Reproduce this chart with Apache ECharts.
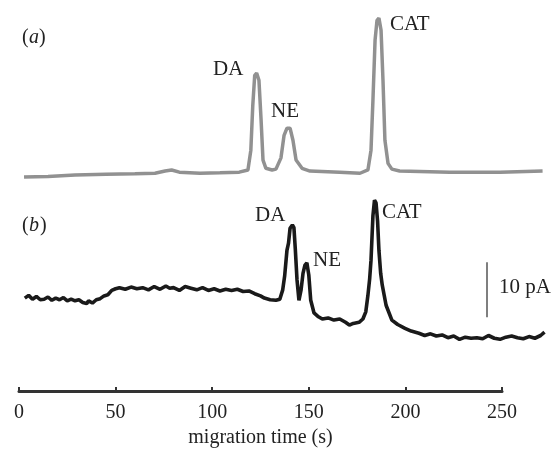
<!DOCTYPE html>
<html>
<head>
<meta charset="utf-8">
<script src="https://cdn.jsdelivr.net/npm/echarts@6/dist/echarts.min.js"></script>
<style>
  html, body { margin: 0; padding: 0; background: #fff; }
  #chart { width: 557px; height: 452px; }
</style>
</head>
<body>
<div id="chart"></div>
<script>
// migration time (s), signal above the trace's own baseline (pA)
var traceA = [
  [2.6, 0], [15, 0.1], [29, 0.4], [45, 0.5], [60, 0.6], [70.4, 0.7], [75.6, 1.1], [79, 1.3],
  [83, 0.9], [93.7, 0.7], [104, 0.8], [114, 0.9], [118.5, 1.3], [120, 4.9], [121, 13],
  [122, 18.5], [123, 18.9], [124.2, 17.6], [125.3, 10.4], [126.3, 3.1], [127.8, 1.6],
  [131, 1.3], [133, 1.45], [135.6, 3.5], [137.2, 7.6], [138.7, 8.9], [140.3, 8.9],
  [141.8, 6.7], [143.4, 3.1], [146.5, 1.6], [150.6, 1.1], [166, 0.9], [176.5, 0.7],
  [180.6, 1.3], [182.2, 4.9], [183.2, 14], [184.3, 24.9], [185.3, 28.5], [186.3, 28.9],
  [187.4, 26.7], [188.4, 17.6], [189.4, 6.7], [191, 2.5], [193, 1.45], [197, 1.1],
  [223, 0.9], [249, 0.9], [271, 1.1]
];
var traceB = [
  [3, 0], [5, 0.5], [7, -0.2], [9, 0.3], [11, -0.3], [13, -0.2], [15, 0.2], [17, -0.4],
  [19, 0], [21, -0.3], [23, 0.1], [25, -0.5], [27, -0.2], [29, -0.5], [31, -0.3], [33, -0.8],
  [35, -1.0], [36, -0.5], [38, -0.9], [40, -0.3], [42, -0.1], [44, 0.4], [46, 0.6], [48, 1.4],
  [50, 1.7], [52, 1.9], [55, 1.6], [58, 2.0], [61, 1.7], [64, 1.9], [67, 1.5], [70, 2.1],
  [73, 1.6], [76, 2.2], [78, 1.8], [80, 1.9], [83, 1.4], [86, 2.1], [89, 1.8], [92, 1.5],
  [95, 1.9], [98, 1.4], [101, 1.7], [104, 1.3], [107, 1.6], [110, 1.4], [113, 1.6], [116, 1.2],
  [119, 1.3], [122, 0.8], [125, 0.4], [127, 0], [130, -0.3], [133, -0.4], [135, -0.2],
  [136.5, 1.5], [137.5, 4], [138.7, 8.7], [139.5, 10], [140.3, 12.7], [141.5, 13.3],
  [142.3, 12.8], [143, 9], [143.9, 3.3], [144.9, -0.4], [146, 1.5], [147, 4.5], [148, 6],
  [149, 6.4], [150, 4.2], [151, -0.4], [152.7, -2.7], [155, -3.4], [157, -3.8], [160, -3.6],
  [163, -4.0], [166, -3.8], [169, -4.4], [171, -4.9], [173, -4.6], [176, -4.4], [178, -3.8],
  [179.5, -2.5], [180.6, 0.5], [181.5, 3.5], [182.2, 6.9], [183.2, 15], [184, 17.8],
  [184.8, 17.3], [185.6, 14], [186.3, 8.7], [187.2, 4.5], [188, 2.4], [190, -1.3], [193, -4],
  [196, -4.8], [199.8, -5.5], [203, -6], [207, -6.4], [210, -6.8], [213, -6.5], [216, -6.9],
  [219, -6.7], [222, -7.2], [225, -6.9], [228, -7.5], [231, -7.1], [234, -7.3], [237, -7.2],
  [240, -7.4], [243, -6.8], [246, -7.3], [249, -7.5], [252, -7.1], [255, -6.9], [258, -7.2],
  [261, -7.4], [264, -7.0], [267, -7.3], [270, -6.8], [272, -6.2]
];
var xTicks = [0, 50, 100, 150, 200, 250];
var scaleBar = 10; // pA

// vertical stacking of the two traces
var offsetA = 31.8;
var offsetB = 9.8;

function shift(data, off) {
  return data.map(function (p) { return [p[0], p[1] + off]; });
}

var serif = '"Liberation Serif", "DejaVu Serif", serif';
var chart = echarts.init(document.getElementById('chart'));

chart.setOption({
  backgroundColor: '#fff',
  animation: false,
  grid: [
    { left: 19, right: 6.7, top: 0, height: 352 },
    { left: 19, right: 55, top: 380, bottom: 61 }
  ],
  xAxis: [
    { gridIndex: 0, type: 'value', min: 0, max: 275, show: false },
    {
      gridIndex: 1, type: 'value', min: xTicks[0], max: xTicks[xTicks.length - 1], interval: 50,
      name: 'migration time (s)', nameLocation: 'middle', nameGap: 37,
      nameTextStyle: { fontFamily: serif, fontSize: 20, color: '#222' },
      axisLine: { lineStyle: { color: '#333', width: 3 } },
      axisTick: { inside: true, length: 4, lineStyle: { color: '#333', width: 2 } },
      axisLabel: { fontFamily: serif, fontSize: 20, color: '#222', margin: 12 },
      splitLine: { show: false }
    }
  ],
  yAxis: [
    { gridIndex: 0, type: 'value', min: 0, max: 64, show: false },
    { gridIndex: 1, type: 'value', show: false }
  ],
  graphic: [
    { type: 'text', left: 22, top: 28, style: { text: '(', font: '20px ' + serif, fill: '#222' } },
    { type: 'text', left: 29, top: 28, style: { text: 'a', font: 'italic 20px ' + serif, fill: '#222' } },
    { type: 'text', left: 39, top: 28, style: { text: ')', font: '20px ' + serif, fill: '#222' } },
    { type: 'text', left: 22, top: 216, style: { text: '(', font: '20px ' + serif, fill: '#222' } },
    { type: 'text', left: 29, top: 216, style: { text: 'b', font: 'italic 20px ' + serif, fill: '#222' } },
    { type: 'text', left: 40, top: 216, style: { text: ')', font: '20px ' + serif, fill: '#222' } },
    { type: 'text', left: 213, top: 59, style: { text: 'DA', font: '21px ' + serif, fill: '#222' } },
    { type: 'text', left: 271, top: 101, style: { text: 'NE', font: '21px ' + serif, fill: '#222' } },
    { type: 'text', left: 390, top: 14, style: { text: 'CAT', font: '21px ' + serif, fill: '#222' } },
    { type: 'text', left: 255, top: 205, style: { text: 'DA', font: '21px ' + serif, fill: '#222' } },
    { type: 'text', left: 313, top: 250, style: { text: 'NE', font: '21px ' + serif, fill: '#222' } },
    { type: 'text', left: 382, top: 202, style: { text: 'CAT', font: '21px ' + serif, fill: '#222' } },
    { type: 'text', left: 499, top: 277, style: { text: '10 pA', font: '21px ' + serif, fill: '#222' } }
  ],
  series: [
    {
      type: 'line', xAxisIndex: 0, yAxisIndex: 0, showSymbol: false, smooth: false,
      data: shift(traceA, offsetA),
      lineStyle: { color: '#919191', width: 3.5 }
    },
    {
      type: 'line', xAxisIndex: 0, yAxisIndex: 0, showSymbol: false, smooth: false,
      data: shift(traceB, offsetB),
      lineStyle: { color: '#1a1a1a', width: 3.6 },
      markLine: {
        silent: true, symbol: 'none', label: { show: false },
        lineStyle: { color: '#555', width: 1.5, type: 'solid' },
        data: [[
          { coord: [242.2, offsetB - 3.5] },
          { coord: [242.2, offsetB - 3.5 + scaleBar] }
        ]]
      }
    }
  ]
});
</script>
</body>
</html>
